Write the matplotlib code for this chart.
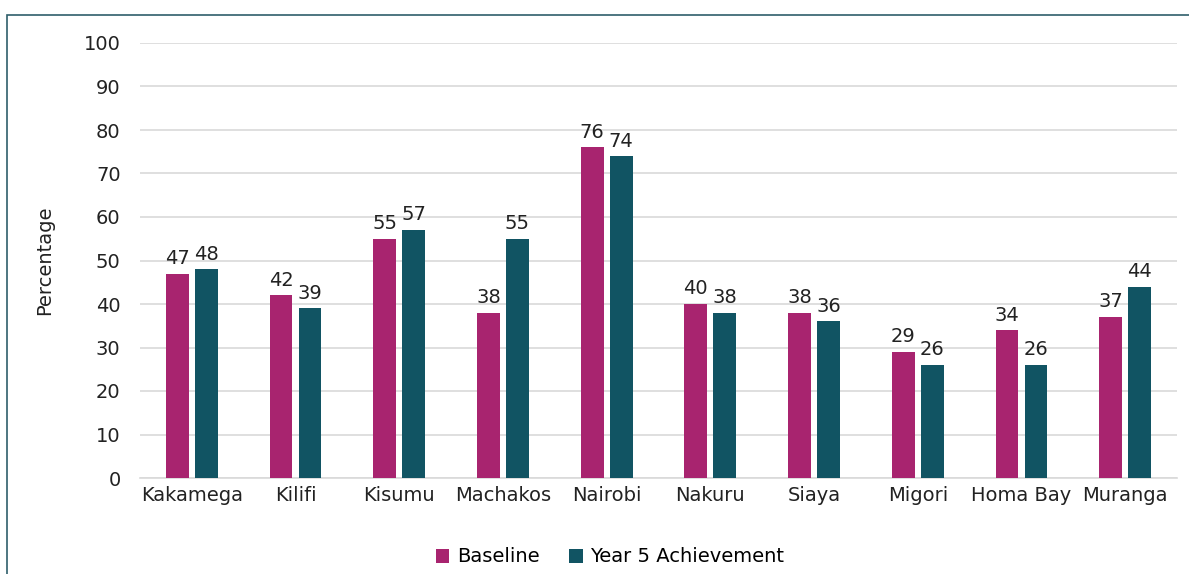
import matplotlib.pyplot as plt
import numpy as np
from matplotlib.patches import Rectangle

counties = ["Kakamega", "Kilifi", "Kisumu", "Machakos", "Nairobi",
            "Nakuru", "Siaya", "Migori", "Homa Bay", "Muranga"]
baseline = [47, 42, 55, 38, 76, 40, 38, 29, 34, 37]
year5 = [48, 39, 57, 55, 74, 38, 36, 26, 26, 44]

c_base = "#A8246F"
c_y5 = "#115463"

plt.rcParams['font.family'] = ['DejaVu Sans']

fig = plt.figure(figsize=(11.89, 5.74), dpi=100)
ax = fig.add_axes([140/1189, 1 - 478/574, 1037/1189, 435/574])

x = np.arange(len(counties))
w = 0.22
b1 = ax.bar(x - 0.14, baseline, w, color=c_base, label="Baseline", zorder=3)
b2 = ax.bar(x + 0.14, year5, w, color=c_y5, label="Year 5 Achievement", zorder=3)
ax.bar_label(b1, padding=4, fontsize=14, color="#222222")
ax.bar_label(b2, padding=4, fontsize=14, color="#222222")

ax.set_xlim(-0.5, len(counties) - 0.5)
ax.set_ylim(0, 100)
ax.set_yticks(range(0, 101, 10))
ax.set_xticks(x)
ax.set_xticklabels(counties)
ax.tick_params(axis='both', length=0, labelsize=14, colors="#222222")
ax.tick_params(axis='y', pad=14)
ax.tick_params(axis='x', pad=6)
ax.grid(axis='y', color="#D9D9D9", linewidth=1.2, zorder=0)
for s in ['top', 'right', 'left']:
    ax.spines[s].set_visible(False)
ax.spines['bottom'].set_color("#D9D9D9")
ax.spines['bottom'].set_linewidth(1.2)

fig.text(45/1189, 1 - 260/574, "Percentage", rotation=90, ha='center', va='center',
         fontsize=14, color="#222222")

fig.legend(handles=[b1, b2], loc='center', bbox_to_anchor=(610/1189, 1 - 557/574),
           ncol=2, frameon=False, fontsize=14, handlelength=0.7, handleheight=0.7,
           columnspacing=1.5, handletextpad=0.4)

# chart border (only left and top visible)
fig.patches.append(Rectangle((7/1189, -0.1), 1.2, 1 - 15/574 + 0.1,
                             transform=fig.transFigure, fill=False,
                             edgecolor="#2F5F6B", linewidth=1.2))

fig.savefig("out.png", dpi=100)
